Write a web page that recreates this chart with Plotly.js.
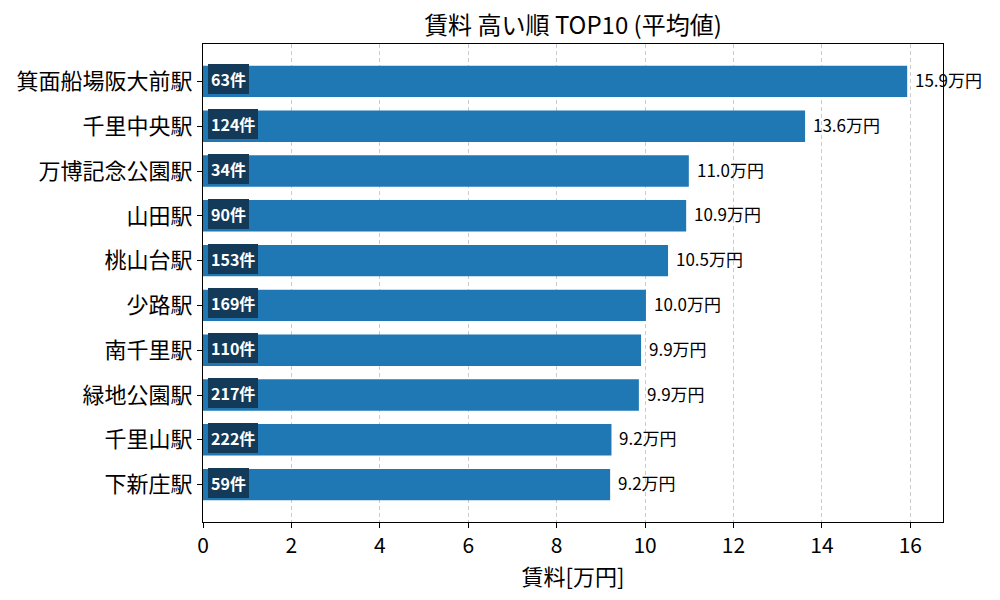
<!DOCTYPE html>
<html>
<head>
<meta charset="utf-8">
<script src="https://cdn.plot.ly/plotly-3.0.1.min.js"></script>
<style>
  html, body { margin: 0; padding: 0; background: #fff; }
  #chart { width: 1000px; height: 600px; }
</style>
</head>
<body>
<div id="chart"></div>
<script>
// Station names, top to bottom
const stations = ['箕面船場阪大前駅', '千里中央駅', '万博記念公園駅', '山田駅', '桃山台駅',
                  '少路駅', '南千里駅', '緑地公園駅', '千里山駅', '下新庄駅'];
// Average rent (万円)
const rents = [15.93, 13.62, 10.99, 10.93, 10.52, 10.02, 9.91, 9.86, 9.24, 9.21];
// Number of listings
const counts = [63, 124, 34, 90, 153, 169, 110, 217, 222, 59];

const FONT = '"Noto Sans CJK JP", "Noto Sans", sans-serif';

const data = [{
    type: 'bar',
    orientation: 'h',
    x: rents,
    y: stations,
    width: 0.7,
    marker: { color: '#1f77b4' },
    hoverinfo: 'x+y'
}];

// Value labels right of the bars, count badges inside at the left
const annotations = [];
stations.forEach(function(name, i) {
    annotations.push({
        x: rents[i], y: name, xref: 'x', yref: 'y',
        text: rents[i].toFixed(1) + '万円',
        showarrow: false, xanchor: 'left', xshift: 6, yshift: 2,
        font: { family: FONT, size: 17, color: '#000' }
    });
    annotations.push({
        x: 0, y: name, xref: 'x', yref: 'y',
        text: '<b>' + counts[i] + '件</b>',
        showarrow: false, xanchor: 'left', xshift: 5, yshift: 2,
        bgcolor: '#143a5a', borderpad: 2, bordercolor: '#143a5a', borderwidth: 1,
        font: { family: FONT, size: 16, color: '#fff' }
    });
});

const layout = {
    width: 1000,
    height: 600,
    margin: { t: 44, r: 57, b: 78, l: 203 },
    paper_bgcolor: '#fff',
    plot_bgcolor: '#fff',
    font: { family: FONT, color: '#000' },
    showlegend: false,
    title: {
        text: '賃料 高い順 TOP10 (平均値)',
        x: 0.573, xanchor: 'center', y: 0.958, yanchor: 'middle',
        font: { family: FONT, size: 24, color: '#000' }
    },
    xaxis: {
        range: [0, 16.74],
        tickvals: [0, 2, 4, 6, 8, 10, 12, 14, 16],
        tickfont: { family: FONT, size: 21, color: '#000' },
        ticks: 'outside', ticklen: 5, tickcolor: '#000',
        showline: true, linecolor: '#000', linewidth: 1, mirror: true,
        showgrid: true, gridcolor: '#cccccc', griddash: '4px,3px', gridwidth: 1,
        zeroline: false,
        title: { text: '賃料[万円]', standoff: 2, font: { family: FONT, size: 22, color: '#000' } }
    },
    yaxis: {
        type: 'category',
        autorange: false,
        range: [9.835, -0.835],
        tickfont: { family: FONT, size: 22, color: '#000' },
        ticks: 'outside', ticklen: 5, tickcolor: '#000',
        showline: true, linecolor: '#000', linewidth: 1, mirror: true,
        showgrid: false, zeroline: false
    },
    annotations: annotations
};

Plotly.newPlot('chart', data, layout, { displayModeBar: false, staticPlot: true });
</script>
</body>
</html>
